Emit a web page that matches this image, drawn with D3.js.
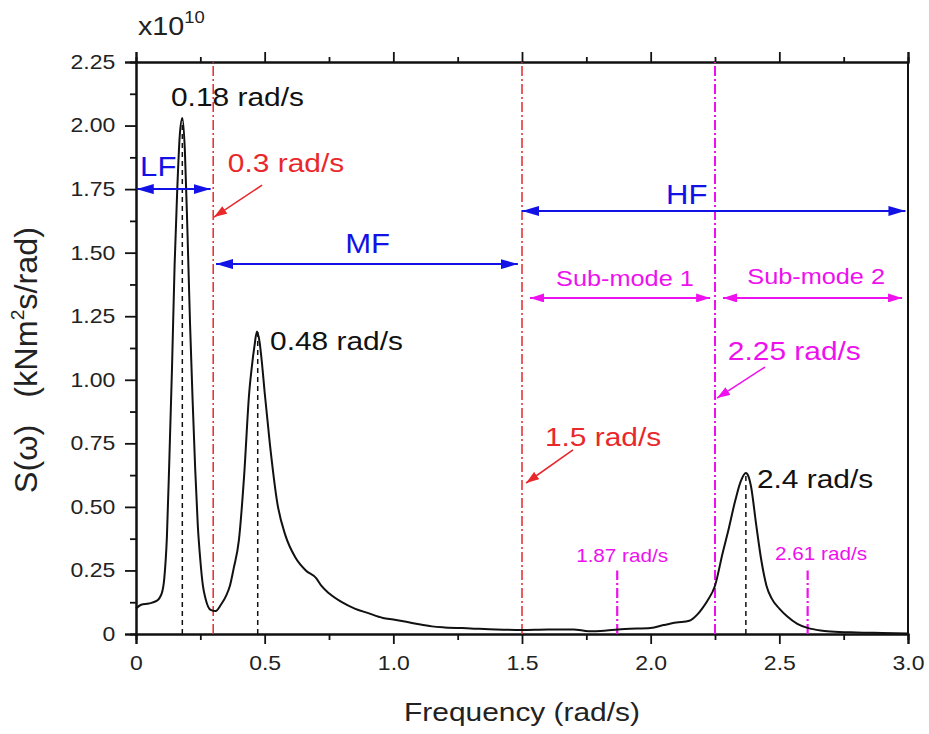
<!DOCTYPE html>
<html>
<head>
<meta charset="utf-8">
<script src="https://cdn.jsdelivr.net/npm/d3@7"></script>
<style>
  body { margin: 0; background: #fff; }
  text { font-family: "Liberation Sans", Arial, sans-serif; }
</style>
</head>
<body>
<div id="chart"></div>
<script>
// spectrum S(w), units of 1e10 kNm^2 s/rad
var freq = [0, 0.02, 0.05, 0.08, 0.10, 0.11, 0.12, 0.13, 0.14, 0.15, 0.16, 0.17, 0.18, 0.19, 0.20,
  0.21, 0.22, 0.23, 0.24, 0.25, 0.26, 0.27, 0.29, 0.31, 0.33, 0.35, 0.365, 0.38, 0.40, 0.42, 0.44, 0.45,
  0.46, 0.47, 0.48, 0.49, 0.50, 0.52, 0.55, 0.58, 0.62, 0.66, 0.70, 0.72, 0.75, 0.80, 0.85, 0.90,
  0.96, 1.00, 1.05, 1.10, 1.15, 1.20, 1.30, 1.40, 1.50, 1.60, 1.70, 1.76, 1.82, 1.90, 2.00, 2.05,
  2.10, 2.15, 2.18, 2.20, 2.22, 2.25, 2.28, 2.30, 2.33, 2.35, 2.37, 2.38, 2.39, 2.41, 2.43, 2.45,
  2.47, 2.50, 2.53, 2.57, 2.61, 2.66, 2.70, 2.80, 2.90, 3.00];
var spec = [0.10, 0.115, 0.12, 0.13, 0.16, 0.22, 0.38, 0.70, 1.05, 1.45, 1.74, 1.96, 2.03, 1.90, 1.58,
  1.22, 0.92, 0.65, 0.43, 0.29, 0.19, 0.14, 0.095, 0.09, 0.115, 0.15, 0.19, 0.26, 0.37, 0.62, 0.95, 1.05,
  1.13, 1.19, 1.15, 1.06, 0.95, 0.75, 0.51, 0.39, 0.30, 0.25, 0.22, 0.19, 0.16, 0.125, 0.10, 0.083,
  0.063, 0.057, 0.048, 0.038, 0.030, 0.026, 0.022, 0.018, 0.016, 0.018, 0.018, 0.011, 0.013, 0.020, 0.024, 0.035,
  0.045, 0.052, 0.075, 0.10, 0.13, 0.19, 0.32, 0.40, 0.53, 0.60, 0.633, 0.62, 0.58, 0.43, 0.29, 0.19,
  0.14, 0.10, 0.07, 0.04, 0.024, 0.014, 0.010, 0.006, 0.004, 0.002];

var xMajor = [0, 0.5, 1.0, 1.5, 2.0, 2.5, 3.0];
var xMinor = [0.25, 0.75, 1.25, 1.75, 2.25, 2.75];
var yMajor = [0, 0.25, 0.5, 0.75, 1.0, 1.25, 1.5, 1.75, 2.0, 2.25];
var yMinor = [0.125, 0.375, 0.625, 0.875, 1.125, 1.375, 1.625, 1.875, 2.125];

// peak markers (black dashed) and band limits
var peaks = [{f: 0.18, s: 2.03}, {f: 0.473, s: 1.19}, {f: 2.37, s: 0.633}];
var bandLines = [{f: 0.3, color: "#e8282b"}, {f: 1.5, color: "#e8282b"}, {f: 2.25, color: "#ee10ee"}];
var subLines = [{f: 1.87, top: 0.25}, {f: 2.61, top: 0.25}];

// range arrows with labels
var ranges = [
  {x0: 0.003, x1: 0.29, y: 1.75, label: "LF", lx: 0.016, ly: 1.80, anchor: "start", color: "#1212e6", size: 27},
  {x0: 0.311, x1: 1.484, y: 1.455, label: "MF", lx: 0.90, ly: 1.497, anchor: "middle", color: "#1212e6", size: 27},
  {x0: 1.50, x1: 2.99, y: 1.664, label: "HF", lx: 2.14, ly: 1.69, anchor: "middle", color: "#1212e6", size: 27},
  {x0: 1.531, x1: 2.231, y: 1.322, label: "Sub-mode 1", lx: 1.90, ly: 1.37, anchor: "middle", color: "#ee10ee", size: 22},
  {x0: 2.281, x1: 2.977, y: 1.322, label: "Sub-mode 2", lx: 2.643, ly: 1.377, anchor: "middle", color: "#ee10ee", size: 22}
];

// point labels
var labels = [
  {t: "0.18 rad/s", x: 0.136, y: 2.077, color: "#111", size: 26, anchor: "start"},
  {t: "0.48 rad/s", x: 0.521, y: 1.117, color: "#111", size: 26, anchor: "start"},
  {t: "2.4 rad/s", x: 2.413, y: 0.574, color: "#111", size: 26, anchor: "start"},
  {t: "0.3 rad/s", x: 0.357, y: 1.817, color: "#e8282b", size: 26, anchor: "start"},
  {t: "1.5 rad/s", x: 1.589, y: 0.740, color: "#e8282b", size: 26, anchor: "start"},
  {t: "2.25 rad/s", x: 2.30, y: 1.078, color: "#ee10ee", size: 26, anchor: "start"},
  {t: "1.87 rad/s", x: 1.889, y: 0.283, color: "#ee10ee", size: 18, anchor: "middle"},
  {t: "2.61 rad/s", x: 2.662, y: 0.291, color: "#ee10ee", size: 18, anchor: "middle"}
];

// pointer arrows
var pointers = [
  {x0: 0.49, y0: 1.766, x1: 0.303, y1: 1.640, color: "#e8282b"},
  {x0: 1.698, y0: 0.724, x1: 1.516, y1: 0.594, color: "#e8282b"},
  {x0: 2.444, y0: 1.050, x1: 2.258, y1: 0.928, color: "#ee10ee"}
];

var W = 929, H = 734;
var margin = {left: 136, right: 21, top: 62, bottom: 100};
var SX = 1.15; // text is a bit wide in the original

var svg = d3.select("#chart").append("svg").attr("width", W).attr("height", H);

var x = d3.scaleLinear().domain([0, 3]).range([margin.left, W - margin.right]);
var y = d3.scaleLinear().domain([0, 2.25]).range([H - margin.bottom, margin.top]);

function addText(parent, px, py, str, size, color, anchor) {
  return parent.append("text")
    .attr("transform", "translate(" + px + "," + py + ") scale(" + SX + ",1)")
    .attr("text-anchor", anchor || "start")
    .attr("font-size", size)
    .attr("fill", color)
    .text(str);
}

// arrow markers
var defs = svg.append("defs");
function marker(id, color, len, wid) {
  defs.append("marker")
    .attr("id", id)
    .attr("viewBox", "0 0 " + len + " " + wid)
    .attr("refX", len).attr("refY", wid / 2)
    .attr("markerWidth", len).attr("markerHeight", wid)
    .attr("markerUnits", "userSpaceOnUse")
    .attr("orient", "auto-start-reverse")
    .append("path")
    .attr("d", "M0,0 L" + len + "," + wid / 2 + " L0," + wid + " Z")
    .attr("fill", color);
}
marker("ab", "#1212e6", 17, 10);
marker("am", "#ee10ee", 14, 9);
marker("ar", "#e8282b", 13, 9);
marker("apm", "#ee10ee", 13, 9);

// axes
var gx = svg.append("g").attr("transform", "translate(0," + y(0) + ")");
gx.call(d3.axisBottom(x).tickValues(xMajor).tickSize(10).tickPadding(12)
  .tickFormat(function (d) { return d === 0 ? "0" : d3.format(".1f")(d); }));
gx.append("g").call(d3.axisBottom(x).tickValues(xMinor).tickSize(6).tickFormat(""));

var gy = svg.append("g").attr("transform", "translate(" + x(0) + ",0)");
gy.call(d3.axisLeft(y).tickValues(yMajor).tickSize(11).tickPadding(7)
  .tickFormat(function (d) { return d === 0 ? "0" : d3.format(".2f")(d); }));
gy.append("g").call(d3.axisLeft(y).tickValues(yMinor).tickSize(6).tickFormat(""));

var gt = svg.append("g").attr("transform", "translate(0," + y(2.25) + ")");
gt.call(d3.axisTop(x).tickValues(xMajor).tickSize(10).tickFormat(""));
gt.append("g").call(d3.axisTop(x).tickValues(xMinor).tickSize(5).tickFormat(""));

svg.append("line")
  .attr("x1", x(3)).attr("x2", x(3)).attr("y1", y(0)).attr("y2", y(2.25))
  .attr("stroke", "#111").attr("stroke-width", 2);

svg.selectAll(".domain").attr("stroke", "#111").attr("stroke-width", 2);
svg.selectAll(".tick line").attr("stroke", "#111").attr("stroke-width", 1.8);
svg.selectAll(".tick text")
  .attr("font-size", 20)
  .attr("fill", "#222")
  .attr("font-family", "Liberation Sans, Arial, sans-serif");
gx.selectAll(".tick text").attr("transform", "scale(" + SX + ",1)");
gy.selectAll(".tick text").attr("transform", "scale(" + SX + ",1)");

// axis titles
addText(svg, (x(0) + x(3)) / 2, 721, "Frequency (rad/s)", 26, "#222", "middle");

var yt = svg.append("text")
  .attr("transform", "translate(37,360) rotate(-90) scale(1.2," + SX + ")")
  .attr("text-anchor", "middle")
  .attr("font-size", 27)
  .attr("fill", "#222");
yt.append("tspan").text("S(\u03c9)\u00a0\u00a0\u00a0(kNm");
yt.append("tspan").attr("font-size", 16).attr("dy", -11).text("2");
yt.append("tspan").attr("dy", 11).text("s/rad)");

var xe = svg.append("text")
  .attr("transform", "translate(" + (x(0) + 2) + ",35) scale(" + SX + ",1)")
  .attr("font-size", 25)
  .attr("fill", "#222");
xe.append("tspan").text("x10");
xe.append("tspan").attr("font-size", 16).attr("dy", -12).text("10");

// band limit lines
svg.selectAll(".band").data(bandLines).enter().append("line")
  .attr("x1", function (d) { return x(d.f); }).attr("x2", function (d) { return x(d.f); })
  .attr("y1", y(0)).attr("y2", y(2.25))
  .attr("stroke", function (d) { return d.color; })
  .attr("stroke-width", function (d) { return d.f === 2.25 ? 2 : 1.5; })
  .attr("stroke-dasharray", "10,3,2,3");

svg.selectAll(".sub").data(subLines).enter().append("line")
  .attr("x1", function (d) { return x(d.f); }).attr("x2", function (d) { return x(d.f); })
  .attr("y1", y(0)).attr("y2", function (d) { return y(d.top); })
  .attr("stroke", "#ee10ee").attr("stroke-width", 2.2)
  .attr("stroke-dasharray", "10,3,2,3");

// peak dashed lines
svg.selectAll(".peak").data(peaks).enter().append("line")
  .attr("x1", function (d) { return x(d.f); }).attr("x2", function (d) { return x(d.f); })
  .attr("y1", y(0)).attr("y2", function (d) { return y(d.s); })
  .attr("stroke", "#111").attr("stroke-width", 1.5)
  .attr("stroke-dasharray", "5,4");

// spectrum curve
var pts = freq.map(function (f, i) { return [f, spec[i]]; });
svg.append("path")
  .datum(pts)
  .attr("fill", "none")
  .attr("stroke", "#111")
  .attr("stroke-width", 2)
  .attr("stroke-linejoin", "round")
  .attr("d", d3.line()
    .x(function (d) { return x(d[0]); })
    .y(function (d) { return y(d[1]); })
    .curve(d3.curveMonotoneX));

// range arrows with labels
ranges.forEach(function (r) {
  var m = r.color === "#1212e6" ? "ab" : "am";
  svg.append("line")
    .attr("x1", x(r.x0)).attr("x2", x(r.x1)).attr("y1", y(r.y)).attr("y2", y(r.y))
    .attr("stroke", r.color).attr("stroke-width", 2)
    .attr("marker-start", "url(#" + m + ")")
    .attr("marker-end", "url(#" + m + ")");
  addText(svg, x(r.lx), y(r.ly), r.label, r.size, r.color, r.anchor);
});

// pointer arrows
pointers.forEach(function (p) {
  svg.append("line")
    .attr("x1", x(p.x0)).attr("y1", y(p.y0)).attr("x2", x(p.x1)).attr("y2", y(p.y1))
    .attr("stroke", p.color).attr("stroke-width", 1.6)
    .attr("marker-end", "url(#" + (p.color === "#e8282b" ? "ar" : "apm") + ")");
});

labels.forEach(function (l) {
  addText(svg, x(l.x), y(l.y), l.t, l.size, l.color, l.anchor);
});
</script>
</body>
</html>
